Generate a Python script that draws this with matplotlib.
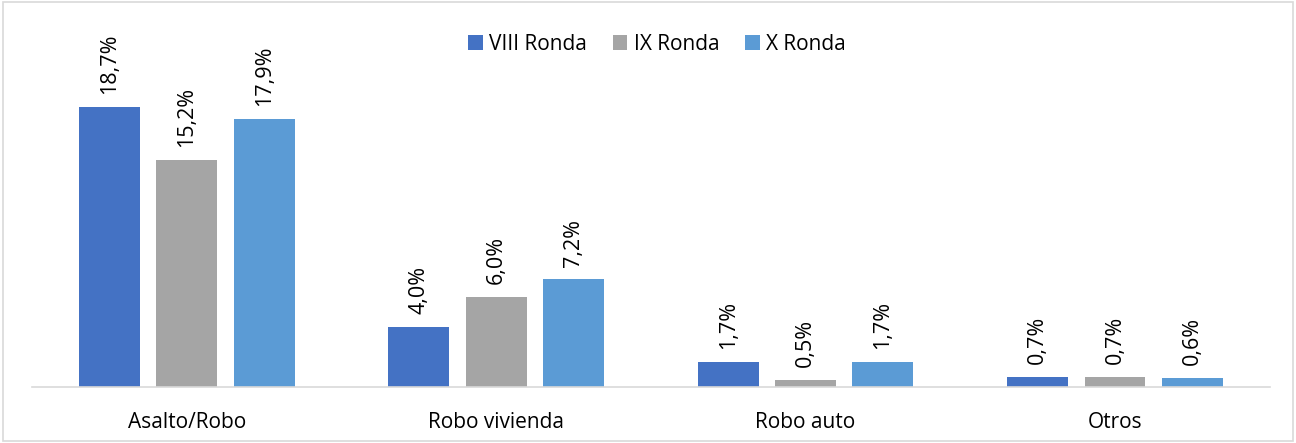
import numpy as np
import matplotlib.pyplot as plt
from matplotlib.patches import Rectangle

categories = ["Asalto/Robo", "Robo vivienda", "Robo auto", "Otros"]
series = ["VIII Ronda", "IX Ronda", "X Ronda"]
viii = [18.7, 4.0, 1.7, 0.7]
ix = [15.2, 6.0, 0.5, 0.7]
x_r = [17.9, 7.2, 1.7, 0.6]
colors = ["#4472C4", "#A5A5A5", "#5B9BD5"]

plt.rcParams['font.family'] = ['Open Sans', 'DejaVu Sans']

fig = plt.figure(figsize=(12.96, 4.43), dpi=100)
ax = fig.add_axes([0.0247, 0.1264, 0.955, 0.853])

x = np.arange(len(categories))
width = 0.197
step = 0.25
for i, (name, vals) in enumerate(zip(series, [viii, ix, x_r])):
    pos = x + (i - 1) * step
    bars = ax.bar(pos, vals, width, color=colors[i], label=name)
    for b, v in zip(bars, vals):
        ax.text(b.get_x() + b.get_width() / 2, v + 0.85, f"{v:.1f}%".replace(".", ","),
                rotation=90, ha="center", va="bottom", fontsize=15.5, color="#000000")

ax.set_xlim(-0.5, 3.5)
ax.set_ylim(0, 25.25)
ax.set_xticks(x)
ax.set_xticklabels(categories, fontsize=15)
ax.tick_params(axis="x", length=0, pad=18)
ax.set_yticks([])
for s in ["top", "right", "left"]:
    ax.spines[s].set_visible(False)
ax.spines["bottom"].set_color("#D9D9D9")
ax.spines["bottom"].set_linewidth(1.2)

ax.legend(loc="upper center", bbox_to_anchor=(0.505, 0.985), ncol=3, frameon=False,
          fontsize=15, handlelength=0.7, handleheight=0.7, columnspacing=1.25,
          handletextpad=0.3)

fig.patches.append(Rectangle((0.002, 0.004), 0.996, 0.992, transform=fig.transFigure,
                             fill=False, edgecolor="#D9D9D9", linewidth=1.2))

fig.savefig("out.png", dpi=100)
